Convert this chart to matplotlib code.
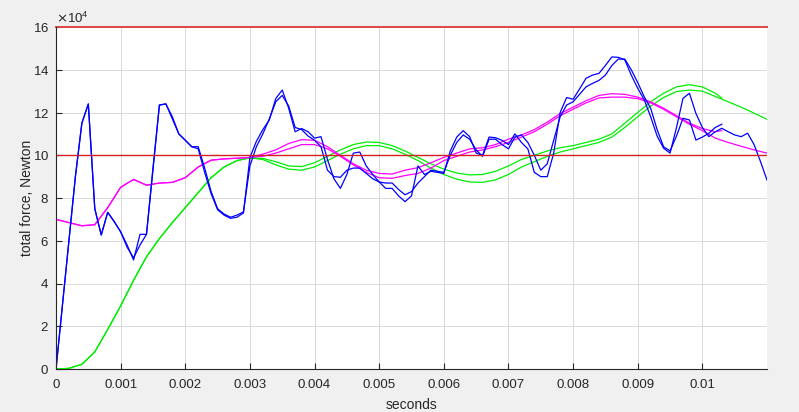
import numpy as np
import matplotlib
matplotlib.use("Agg")
from matplotlib import pyplot as plt
from matplotlib.ticker import ScalarFormatter

# force values are in units of 1e4 Newton
# blue: raw total force, sampled every 0.1 ms
blue1 = [0, 3.0, 6.0, 9.0, 11.5, 12.4, 7.5, 6.27, 7.33, 6.9,
         6.42, 5.8, 5.1, 6.3, 6.3, 9.4, 12.35, 12.4, 11.8, 11.0,
         10.7, 10.4, 10.3, 9.2, 8.2, 7.45, 7.2, 7.05, 7.1, 7.3,
         9.9, 10.65, 11.2, 11.65, 12.65, 13.05, 12.2, 11.1, 11.25, 11.1,
         10.8, 10.87, 9.8, 8.9, 8.45, 9.1, 10.1, 10.15, 9.5, 9.1,
         8.75, 8.45, 8.45, 8.1, 7.83, 8.1, 9.5, 9.1, 9.25, 9.2,
         9.15, 10.2, 10.85, 11.15, 10.87, 10.1, 10.0, 10.85, 10.82, 10.7,
         10.5, 11.0, 10.6, 10.3, 9.2, 9.0, 9.0, 10.1, 12.0, 12.7,
         12.62, 13.1, 13.6, 13.75, 13.83, 14.2, 14.6, 14.58, 14.46, 13.75,
         13.13, 12.6, 11.8, 10.9, 10.33, 10.1, 11.3, 12.66, 12.9, 11.96,
         11.3, 10.87, 11.1, 11.26, 11.1, 10.95, 10.87, 11.03, 10.5, 9.7,
         8.84]
blue2 = [0, 3.0, 6.0, 9.0, 11.5, 12.4, 7.5, 6.27, 7.33, 6.9,
         6.42, 5.7, 5.2, 5.8, 6.3, 9.3, 12.35, 12.4, 11.7, 11.0,
         10.7, 10.4, 10.4, 9.4, 8.3, 7.5, 7.25, 7.1, 7.2, 7.35,
         9.5, 10.4, 11.0, 11.7, 12.5, 12.8, 12.3, 11.3, 11.2, 10.9,
         10.7, 10.4, 9.3, 9.0, 8.97, 9.3, 9.4, 9.4, 9.15, 8.9,
         8.75, 8.7, 8.7, 8.4, 8.15, 8.3, 8.7, 9.0, 9.3, 9.25,
         9.2, 10.0, 10.6, 10.95, 10.75, 10.25, 9.95, 10.75, 10.75, 10.5,
         10.3, 10.85, 10.95, 10.6, 10.0, 9.3, 9.6, 10.7, 11.8, 12.35,
         12.5, 12.85, 13.2, 13.36, 13.5, 13.75, 14.2, 14.5, 14.5, 14.0,
         13.4, 12.74, 12.2, 11.2, 10.4, 10.2, 10.9, 11.73, 11.65, 10.71,
         10.85, 11.03, 11.3, 11.45]

# magenta and green: smoothed curves, read every 0.2 ms
magenta1 = [7.0, 6.85, 6.7, 6.75, 7.55, 8.5, 8.87, 8.6, 8.7, 8.73,
            8.95, 9.45, 9.77, 9.83, 9.86, 9.9,
            9.95, 10.1, 10.3, 10.5, 10.5, 10.3, 9.95, 9.55, 9.2, 8.95,
            8.92, 9.05, 9.15, 9.4, 9.75, 9.95, 10.15, 10.25, 10.4, 10.6,
            10.85, 11.1, 11.45, 11.85, 12.15, 12.45, 12.68, 12.72, 12.72, 12.65,
            12.45, 12.15, 11.8, 11.45, 11.15, 10.8, 10.6, 10.42, 10.25, 10.1]
magenta2 = [7.0, 6.85, 6.7, 6.75, 7.55, 8.5, 8.87, 8.6, 8.7, 8.73,
            8.95, 9.45, 9.77, 9.83, 9.86, 9.9,
            10.05, 10.25, 10.55, 10.73, 10.7, 10.4, 10.0, 9.6, 9.3, 9.15,
            9.12, 9.3, 9.42, 9.65, 9.9, 10.1, 10.3, 10.35, 10.5, 10.75,
            10.95, 11.2, 11.55, 11.95, 12.25, 12.55, 12.8, 12.88, 12.85, 12.72,
            12.5, 12.2, 11.85, 11.5, 11.25, 11.1, 11.15]
green1 = [0, 0.03, 0.22, 0.8, 1.85, 2.95, 4.15, 5.25, 6.1, 6.85,
          7.55, 8.25, 8.95, 9.45, 9.75, 9.88,
          9.8, 9.55, 9.35, 9.3, 9.45, 9.75, 10.05, 10.3, 10.45, 10.45,
          10.3, 10.05, 9.75, 9.4, 9.1, 8.88, 8.75, 8.73, 8.85, 9.1,
          9.45, 9.7, 9.95, 10.15, 10.3, 10.45, 10.6, 10.85, 11.3, 11.8,
          12.3, 12.7, 12.98, 13.05, 13.0, 12.75, 12.5, 12.25, 11.97, 11.68]
green2 = [0, 0.03, 0.22, 0.8, 1.85, 2.95, 4.15, 5.25, 6.1, 6.85,
          7.55, 8.25, 8.95, 9.45, 9.75, 9.88,
          9.85, 9.7, 9.5, 9.47, 9.65, 9.95, 10.25, 10.5, 10.62, 10.6,
          10.45, 10.2, 9.9, 9.6, 9.35, 9.17, 9.08, 9.1, 9.25, 9.5,
          9.8, 10.0, 10.2, 10.35, 10.45, 10.6, 10.75, 11.0, 11.5, 12.0,
          12.5, 12.9, 13.2, 13.3, 13.2, 12.9, 12.68]

limit_hi = 16
limit_mid = 10

t_raw1 = np.arange(len(blue1)) * 1e-4
t_raw2 = np.arange(len(blue2)) * 1e-4
t_s1 = np.arange(len(magenta1)) * 2e-4
t_s2 = np.append(np.arange(len(magenta2) - 1) * 2e-4, 0.0103)

fam = ['Liberation Sans', 'DejaVu Sans']
plt.rcParams['font.family'] = fam

fig = plt.figure(figsize=(7.99, 4.12), dpi=100, facecolor='#f0f0f0')
ax = fig.add_axes([56/799, 1 - 369/412, (767-56)/799, (369-27)/412])
ax.set_facecolor('white')

scale = 1e4
ax.plot(t_s1, np.array(green1)*scale, color='#00ee00', lw=0.9)
ax.plot(t_s2, np.array(green2)*scale, color='#00ee00', lw=0.9)
ax.plot(t_s1, np.array(magenta1)*scale, color='#ff00ff', lw=0.9)
ax.plot(t_s2, np.array(magenta2)*scale, color='#ff00ff', lw=0.9)
ax.plot(t_raw1, np.array(blue1)*scale, color='#0000ff', lw=0.9)
ax.plot(t_raw2, np.array(blue2)*scale, color='#0000ff', lw=0.9)
ax.axhline(limit_hi*scale, color='#e04545', lw=1.4, clip_on=False)
ax.axhline(limit_mid*scale, color='#d42020', lw=1.0)

ax.set_xlim(0, 0.011)
ax.set_ylim(0, 16e4)
ax.set_xticks(np.arange(0, 0.0101, 0.001))
ax.set_xticklabels(['0', '0.001', '0.002', '0.003', '0.004', '0.005',
                    '0.006', '0.007', '0.008', '0.009', '0.01'])
ax.set_yticks(np.arange(0, 16.1e4, 2e4))
fmt = ScalarFormatter(useMathText=True)
fmt.set_powerlimits((4, 4))
ax.yaxis.set_major_formatter(fmt)

ax.grid(True, color='#d9d9d9', lw=0.7)
ax.set_axisbelow(True)
for s in ['top', 'right']:
    ax.spines[s].set_visible(False)
for s in ['left', 'bottom']:
    ax.spines[s].set_color('#262626')
    ax.spines[s].set_linewidth(0.8)
ax.tick_params(direction='in', length=4, width=0.8, colors='#262626',
               labelsize=9.5)
ax.tick_params(axis='x', pad=7)
ax.tick_params(axis='y', pad=5)
ax.yaxis.get_offset_text().set_fontsize(9.5)
ax.yaxis.get_offset_text().set_color('#262626')

ax.set_xlabel('seconds', fontsize=10, color='#262626', labelpad=5)
ax.set_ylabel('total force, Newton', fontsize=10, color='#262626', labelpad=-1)

fig.savefig('out.png', dpi=100, facecolor=fig.get_facecolor())
